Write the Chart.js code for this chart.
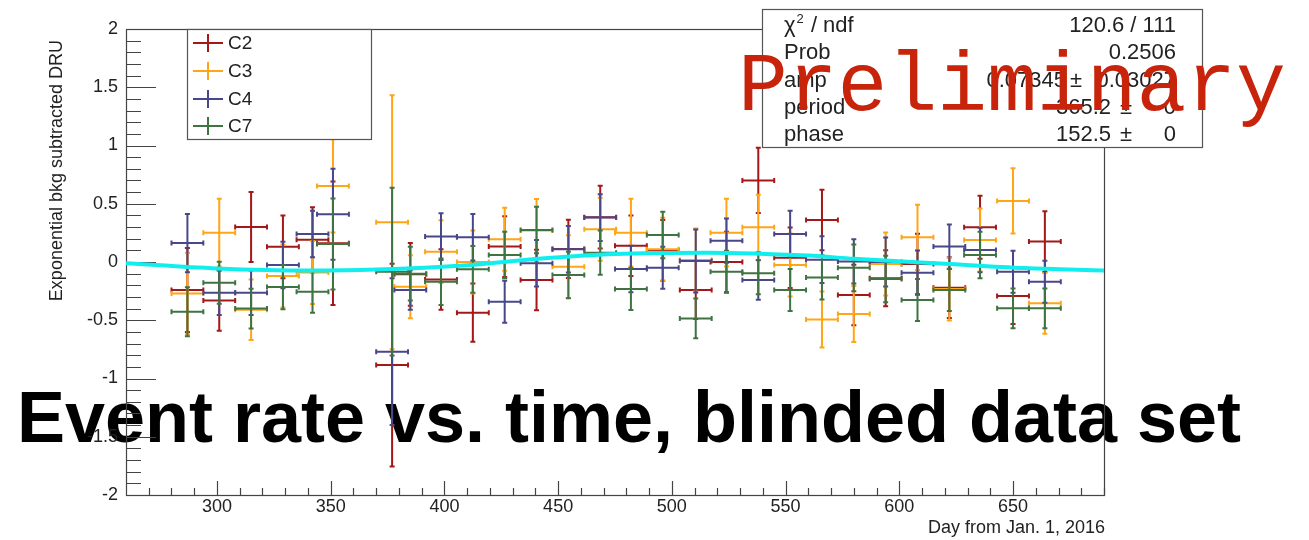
<!DOCTYPE html>
<html>
<head>
<meta charset="utf-8">
<script src="https://cdn.jsdelivr.net/npm/chart.js@4.4.1/dist/chart.umd.min.js"></script>
<style>
  html, body { margin: 0; padding: 0; background: #fff; }
  canvas { display: block; }
</style>
</head>
<body>
<canvas id="rateChart" width="1309" height="540"></canvas>
<script>
// bin centres in days since Jan 1 2016 (same bins for every channel), half width 7 days
const days = [287, 301, 315, 329, 342, 351, 377, 385, 398.5, 412.5, 426.5, 440.5, 454.5, 468.5,
              482, 496, 510.5, 524, 538, 552, 566, 580, 594, 608, 622, 635.5, 650, 664];
const dayErr = 7;

const c2Vals = [-0.24, -0.33, 0.30, 0.13, 0.19, 0.16, -0.885, -0.106, -0.15, -0.435, 0.132, -0.155, 0.112, 0.385,
                0.14, 0.10, -0.24, 0.0, 0.70, 0.037, 0.36, -0.283, -0.14, -0.017, -0.22, 0.298, -0.292, 0.175];
const c2Errs = [0.36, 0.26, 0.30, 0.27, 0.28, 0.53, 0.87, 0.27, 0.26, 0.25, 0.26, 0.26, 0.25, 0.27,
                0.26, 0.26, 0.25, 0.26, 0.28, 0.26, 0.26, 0.26, 0.24, 0.26, 0.26, 0.27, 0.24, 0.26];

const c3Vals = [-0.27, 0.252, -0.41, -0.12, -0.09, 0.653, 0.341, -0.212, 0.089, 0.0, 0.195, 0.27, -0.04, 0.281,
                0.252, 0.109, 0.017, 0.252, 0.298, -0.026, -0.493, -0.447, -0.017, 0.212, -0.232, 0.189, 0.524, -0.355];
const c3Errs = [0.35, 0.29, 0.26, 0.27, 0.27, 0.40, 1.09, 0.27, 0.27, 0.27, 0.27, 0.27, 0.27, 0.27,
                0.29, 0.27, 0.27, 0.29, 0.28, 0.27, 0.24, 0.24, 0.27, 0.28, 0.27, 0.27, 0.28, 0.26];

const c4Vals = [0.163, -0.264, -0.264, -0.026, 0.24, 0.41, -0.77, -0.24, 0.218, 0.212, -0.341, -0.011, 0.11, 0.381,
                -0.06, -0.05, 0.009, 0.183, -0.155, 0.24, 0.02, 0.005, 0.0, -0.092, 0.132, 0.103, -0.083, -0.169];
const c4Errs = [0.25, 0.19, 0.19, 0.20, 0.20, 0.39, 0.63, 0.17, 0.20, 0.20, 0.18, 0.20, 0.20, 0.20,
                0.20, 0.18, 0.27, 0.19, 0.17, 0.20, 0.20, 0.19, 0.21, 0.19, 0.19, 0.19, 0.18, 0.18];

const c7Vals = [-0.427, -0.178, -0.40, -0.215, -0.255, 0.155, -0.083, -0.10, -0.169, -0.063, 0.06, 0.275, -0.112, 0.08,
                -0.232, 0.232, -0.484, -0.083, -0.097, -0.24, -0.132, -0.05, -0.146, -0.326, -0.24, 0.06, -0.398, -0.398];
const c7Errs = [0.21, 0.18, 0.17, 0.19, 0.18, 0.39, 0.72, 0.23, 0.20, 0.20, 0.20, 0.20, 0.20, 0.19,
                0.18, 0.20, 0.17, 0.18, 0.18, 0.18, 0.19, 0.20, 0.20, 0.18, 0.18, 0.20, 0.17, 0.17];

// annual modulation fit, sampled along the drawn curve
const fitDays = [260, 300, 340, 370, 410, 440, 475, 515, 560, 580, 620, 655, 690];
const fitVals = [-0.01, -0.055, -0.073, -0.065, -0.028, 0.025, 0.068, 0.08, 0.055, 0.028, -0.015, -0.052, -0.072];

const xTicks = [300, 350, 400, 450, 500, 550, 600, 650];
const yTicks = [-2, -1.5, -1, -0.5, 0, 0.5, 1, 1.5, 2];

const channels = ["C2", "C3", "C4", "C7"];
const colors = ["#a31818", "#ffa516", "#47478a", "#3f7342"];

const statsRows = [
  ["chi2", "120.6 / 111"],
  ["Prob", "0.2506"],
  ["amp", "0.07345", "0.03027"],
  ["period", "365.2", "0"],
  ["phase", "152.5", "0"]
];

const FONT = "'Liberation Sans', Arial, Helvetica, sans-serif";

function series(vals, errs, i) {
  return {
    label: channels[i],
    data: days.map((d, k) => ({ x: d, y: vals[k] })),
    yErr: errs,
    borderColor: colors[i],
    backgroundColor: colors[i],
    pointRadius: 0,
    showLine: false
  };
}

// frame, inward ROOT-style ticks and the error crosses, all under the fit line
const rootFrame = {
  id: 'rootFrame',
  beforeDraw(chart) {
    const ctx = chart.ctx;
    ctx.save();
    ctx.fillStyle = "#000";
    ctx.font = "bold 72px " + FONT;
    const txt = "Event rate vs. time, blinded data set";
    const w = ctx.measureText(txt).width;
    ctx.translate(17, 442);
    ctx.scale(1224 / w, 1);
    ctx.textBaseline = "alphabetic";
    ctx.fillText(txt, 0, 0);
    ctx.restore();
  },
  beforeDatasetsDraw(chart) {
    const { ctx, chartArea: a, scales: { x, y } } = chart;
    ctx.save();
    ctx.strokeStyle = "#444";
    ctx.lineWidth = 1.2;
    ctx.strokeRect(a.left + 0.5, a.top + 0.5, a.right - a.left, a.bottom - a.top);

    ctx.beginPath();
    for (let v = -20; v <= 20; v++) {
      const py = Math.round(y.getPixelForValue(v / 10)) + 0.5;
      const len = v % 5 === 0 ? 30 : 15;
      ctx.moveTo(a.left, py);
      ctx.lineTo(a.left + len, py);
    }
    for (let d = 270; d <= 690; d += 10) {
      const px = Math.round(x.getPixelForValue(d)) + 0.5;
      const len = d % 50 === 0 ? 14 : 7;
      ctx.moveTo(px, a.bottom);
      ctx.lineTo(px, a.bottom - len);
    }
    ctx.stroke();

    ctx.beginPath();
    ctx.rect(a.left, a.top, a.right - a.left, a.bottom - a.top);
    ctx.clip();
    const cap = 2.5;
    chart.data.datasets.forEach(ds => {
      if (!ds.yErr) return;
      ctx.strokeStyle = ds.borderColor;
      ctx.lineWidth = 2;
      ds.data.forEach((p, i) => {
        const px = x.getPixelForValue(p.x);
        const py = y.getPixelForValue(p.y);
        const x0 = x.getPixelForValue(p.x - dayErr);
        const x1 = x.getPixelForValue(p.x + dayErr);
        const y0 = y.getPixelForValue(p.y + ds.yErr[i]);
        const y1 = y.getPixelForValue(p.y - ds.yErr[i]);
        ctx.beginPath();
        ctx.moveTo(x0, py); ctx.lineTo(x1, py);
        ctx.moveTo(px, y0); ctx.lineTo(px, y1);
        ctx.moveTo(x0, py - cap); ctx.lineTo(x0, py + cap);
        ctx.moveTo(x1, py - cap); ctx.lineTo(x1, py + cap);
        ctx.moveTo(px - cap, y0); ctx.lineTo(px + cap, y0);
        ctx.moveTo(px - cap, y1); ctx.lineTo(px + cap, y1);
        ctx.stroke();
      });
    });
    ctx.restore();
  },
  afterDraw(chart) {
    const ctx = chart.ctx;
    ctx.save();

    // axis titles
    ctx.fillStyle = "#222";
    ctx.font = "18px " + FONT;
    ctx.textAlign = "right";
    ctx.textBaseline = "alphabetic";
    ctx.fillText("Day from Jan. 1, 2016", 1105, 533);
    ctx.save();
    ctx.translate(62, 40);
    ctx.rotate(-Math.PI / 2);
    ctx.fillText("Exponential bkg subtracted DRU", 0, 0);
    ctx.restore();

    // legend
    ctx.fillStyle = "#fff";
    ctx.fillRect(187, 29, 184, 110);
    ctx.strokeStyle = "#555";
    ctx.lineWidth = 1.2;
    ctx.strokeRect(187.5, 29.5, 184, 110);
    const rowsY = [43, 71, 99, 126];
    channels.forEach((c, i) => {
      ctx.strokeStyle = colors[i];
      ctx.lineWidth = 2;
      ctx.beginPath();
      ctx.moveTo(193, rowsY[i]); ctx.lineTo(223, rowsY[i]);
      ctx.moveTo(208, rowsY[i] - 9); ctx.lineTo(208, rowsY[i] + 9);
      ctx.stroke();
      ctx.fillStyle = "#222";
      ctx.font = "19px " + FONT;
      ctx.textAlign = "left";
      ctx.textBaseline = "middle";
      ctx.fillText(c, 228, rowsY[i] + 1);
    });

    // fit statistics box
    ctx.fillStyle = "#fff";
    ctx.fillRect(762, 9, 441, 139);
    ctx.strokeStyle = "#555";
    ctx.lineWidth = 1.2;
    ctx.strokeRect(762.5, 9.5, 440, 138);
    const base = [31.5, 59, 86.5, 114, 141];
    ctx.fillStyle = "#222";
    ctx.textBaseline = "alphabetic";
    statsRows.forEach((r, i) => {
      ctx.font = "22px " + FONT;
      ctx.textAlign = "left";
      if (r[0] === "chi2") {
        ctx.fillText("\u03c7", 784, base[i]);
        const cw = ctx.measureText("\u03c7").width;
        ctx.font = "13px " + FONT;
        ctx.fillText("2", 785 + cw, base[i] - 9);
        const sw = ctx.measureText("2").width;
        ctx.font = "22px " + FONT;
        ctx.fillText(" / ndf", 786 + cw + sw, base[i]);
      } else {
        ctx.fillText(r[0], 784, base[i]);
      }
      ctx.textAlign = "right";
      if (r.length === 2) {
        ctx.fillText(r[1], 1176, base[i]);
      } else if (r[0] === "amp") {
        ctx.fillText(r[1], 1066, base[i]);
        ctx.textAlign = "center";
        ctx.fillText("\u00b1", 1076, base[i]);
        ctx.textAlign = "right";
        ctx.fillText(r[2], 1176, base[i]);
      } else {
        ctx.fillText(r[1], 1111, base[i]);
        ctx.textAlign = "center";
        ctx.fillText("\u00b1", 1126, base[i]);
        ctx.textAlign = "right";
        ctx.fillText(r[2], 1176, base[i]);
      }
    });

    ctx.fillStyle = "#c8240c";
    ctx.font = "83px 'Liberation Mono', 'Courier New', monospace";
    ctx.textAlign = "left";
    ctx.fillText("Preliminary", 738, 110);
    ctx.restore();
  }
};

const datasets = [
  series(c2Vals, c2Errs, 0),
  series(c3Vals, c3Errs, 1),
  series(c4Vals, c4Errs, 2),
  series(c7Vals, c7Errs, 3),
  {
    label: "fit",
    data: fitDays.map((d, k) => ({ x: d, y: fitVals[k] })),
    borderColor: "#12eeee",
    borderWidth: 4,
    pointRadius: 0,
    showLine: true,
    cubicInterpolationMode: "monotone"
  }
];

new Chart(document.getElementById("rateChart"), {
  type: "scatter",
  data: { datasets },
  options: {
    responsive: false,
    animation: false,
    layout: { padding: { top: 29, right: 205, left: 0, bottom: 0 } },
    scales: {
      x: {
        type: "linear",
        min: 260,
        max: 690,
        grid: { display: false, drawTicks: false },
        border: { display: false },
        afterBuildTicks: s => { s.ticks = xTicks.map(v => ({ value: v })); },
        afterFit: s => { s.height = 45; },
        ticks: { color: "#222", font: { family: FONT, size: 18 }, padding: 1, maxRotation: 0, autoSkip: false }
      },
      y: {
        min: -2,
        max: 2,
        grid: { display: false, drawTicks: false },
        border: { display: false },
        afterBuildTicks: s => { s.ticks = yTicks.map(v => ({ value: v })); },
        afterFit: s => { s.width = 126; },
        ticks: {
          color: "#222",
          font: { family: FONT, size: 18 },
          padding: 8,
          autoSkip: false,
          callback: v => String(v)
        }
      }
    },
    plugins: { legend: { display: false }, tooltip: { enabled: false } }
  },
  plugins: [rootFrame]
});
</script>
</body>
</html>
